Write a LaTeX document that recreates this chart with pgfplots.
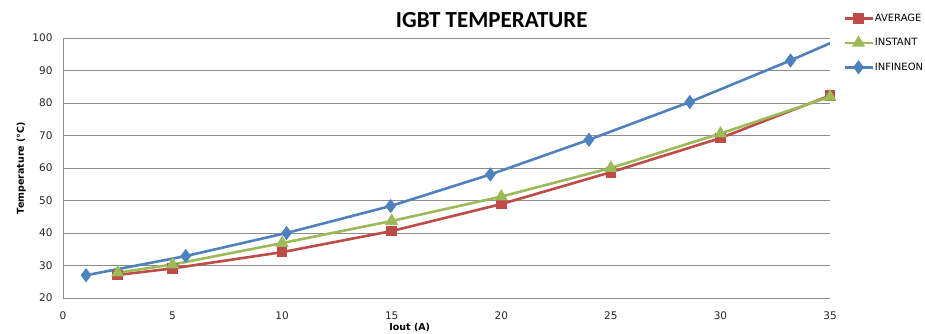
\documentclass[border=0pt]{standalone}
\usepackage{fontspec}
\setmainfont{DejaVu Sans}
\newfontfamily\titlefont{Carlito}
\usepackage{pgfplots}
\pgfplotsset{compat=1.18}

\definecolor{avgred}{HTML}{BE4B48}
\definecolor{instgreen}{HTML}{9BBB59}
\definecolor{infblue}{HTML}{4F81BD}
\definecolor{gridgray}{HTML}{8C8C8C}

\begin{document}
\begin{tikzpicture}
\path[use as bounding box] (0pt,0pt) rectangle (925pt,334pt);
\begin{axis}[
  at={(63pt,36pt)}, anchor=south west,
  scale only axis, width=767pt, height=260pt,
  xmin=0, xmax=35, ymin=20, ymax=100,
  xtick={0,5,...,35}, ytick={20,30,...,100},
  axis x line=bottom, axis y line=left,
  axis line style={-, draw=gridgray, line width=0.9pt},
  major tick length=0pt,
  ymajorgrids, grid style={draw=gridgray, line width=0.9pt},
  tick label style={font=\fontsize{10.5}{12}\selectfont, text=black!85},
  /pgf/number format/assume math mode=true,
  yticklabel style={xshift=-7pt},
  xticklabel style={yshift=-10pt},
  title={\titlefont\bfseries\fontsize{23}{26}\selectfont IGBT TEMPERATURE},
  title style={at={(axis description cs:0.559,1.046)}, anchor=center},
  xlabel={Iout (A)},
  xlabel style={at={(axis description cs:0.452,-0.114)}, anchor=center, font=\bfseries\fontsize{9.5}{11}\selectfont},
  ylabel={Temperature (°C)},
  ylabel style={at={(axis description cs:-0.0545,0.5)}, anchor=center, font=\bfseries\fontsize{9.5}{11}\selectfont},
  legend style={at={(rel axis cs:1.017,1.097)}, anchor=north west, draw=none, fill=none,
    font=\fontsize{10}{12}\selectfont, row sep=13.5pt, inner sep=0pt,
    nodes={inner sep=1pt}},
  legend cell align=left,
  legend image code/.code={\draw[mark repeat=2,mark phase=2] plot coordinates {(0pt,0pt)(14pt,0pt)(28pt,0pt)};},
  every axis plot/.append style={line width=2.6pt, mark options={solid}},
]
\addplot[color=avgred, mark=square*, mark size=4pt] coordinates {
  (2.5,27.1) (5,29.1) (10,34.1) (15,40.6) (20,48.9) (25,58.7) (30,69.2) (35,82.3)};
\addlegendentry{AVERAGE}
\addplot[color=instgreen, mark=triangle*, mark size=5pt] coordinates {
  (2.5,27.8) (5,30.3) (10,36.9) (15,43.7) (20,51.2) (25,60.0) (30,70.6) (35,81.9)};
\addlegendentry{INSTANT}
\addplot[color=infblue, mark=diamond*, mark size=5pt] coordinates {
  (1.05,27.0) (5.6,32.9) (10.2,40.0) (14.95,48.3) (19.5,58.0) (24.0,68.7) (28.6,80.3) (33.2,93.1) (37.8,106.6)};
\addlegendentry{INFINEON}
\end{axis}
\end{tikzpicture}
\end{document}
